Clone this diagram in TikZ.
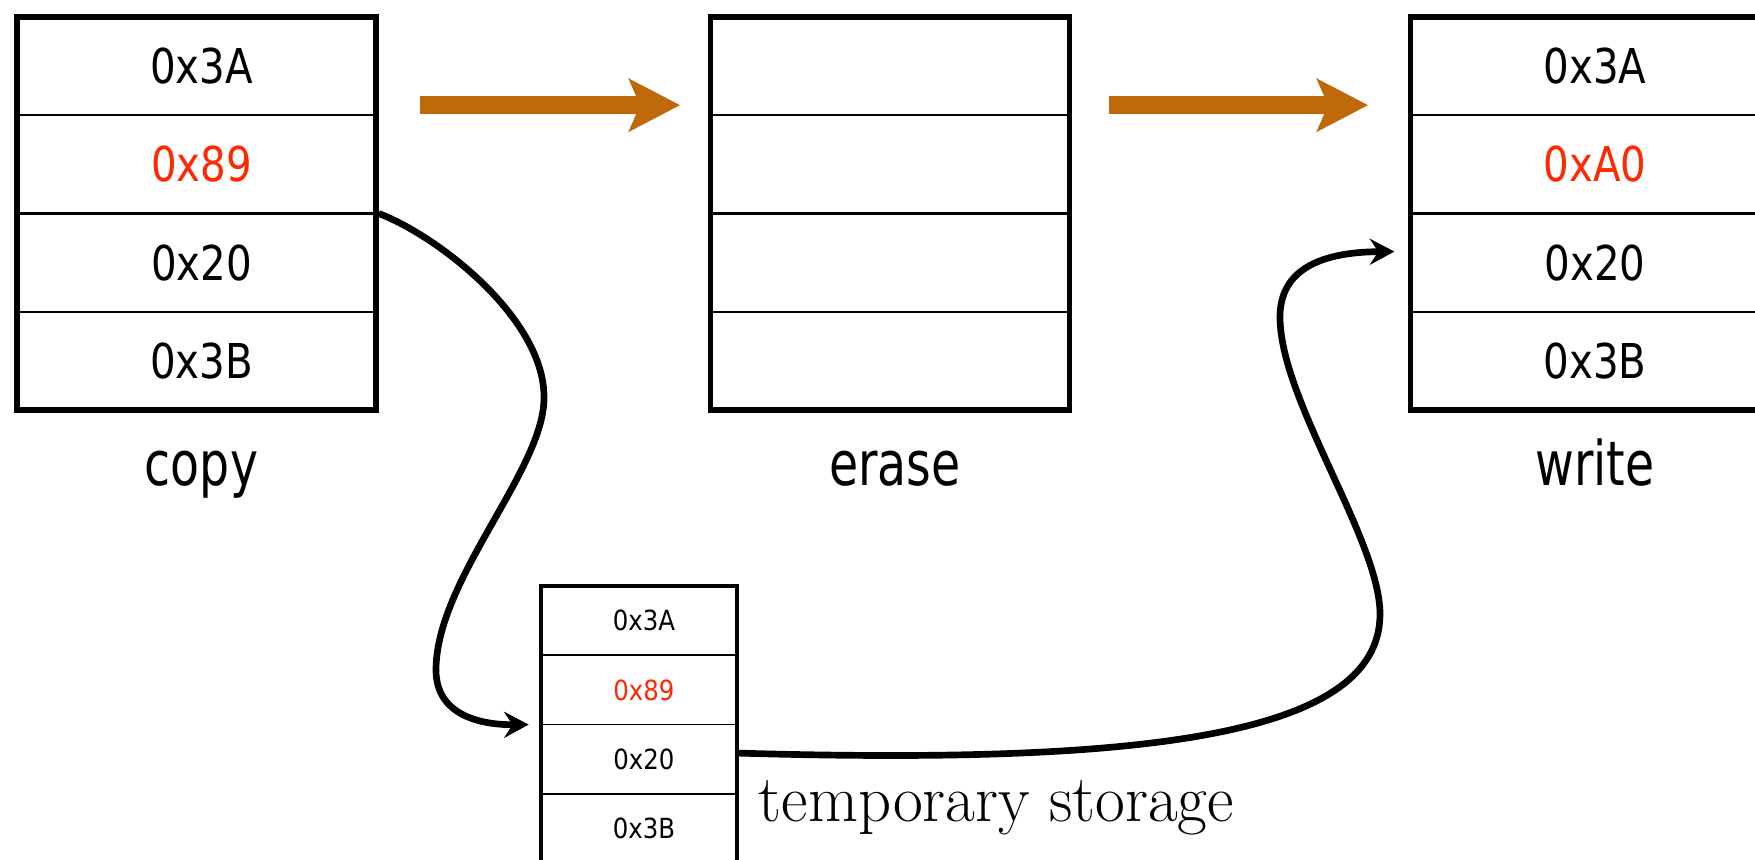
\documentclass[tikz,border=0pt]{standalone}
\usepackage{fontspec}
\usetikzlibrary{arrows.meta}
\newfontfamily\vsans{DejaVu Sans}
\definecolor{flow}{RGB}{191,105,10}
\definecolor{hot}{RGB}{255,40,0}
% byte values and step names, set in a narrowed sans serif
\newcommand\bigval[1]{\hspace*{1mm}\scalebox{0.84}[1]{\vsans\fontsize{13.66pt}{16pt}\selectfont #1}}
\newcommand\smallval[1]{\hspace*{1mm}\scalebox{0.88}[1]{\vsans\fontsize{7.9pt}{9pt}\selectfont #1}}
\newcommand\steptext[1]{\hspace*{1mm}\scalebox{0.77}[1]{\vsans\fontsize{17.5pt}{21pt}\selectfont #1}}
\tikzset{
  memcell/.style={draw, line width=0.6pt, minimum width=35.9mm, minimum height=9.825mm,
    inner sep=0pt, text height=9.96pt, text depth=0pt},
  tmpcell/.style={draw, line width=0.5pt, minimum width=19.6mm, minimum height=6.925mm,
    inner sep=0pt, text height=5.76pt, text depth=0pt},
  memframe/.style={draw, line width=1.6pt, minimum width=35.9mm, minimum height=39.3mm, inner sep=0pt},
  tmpframe/.style={draw, line width=1.3pt, minimum width=19.6mm, minimum height=27.7mm, inner sep=0pt},
  flowarrow/.style={draw=flow, line width=5.1pt, -{Stealth[length=14.5pt,width=14.8pt,inset=3.1pt]}},
  movearrow/.style={draw, line width=1.9pt, -{Stealth[length=7pt,width=7.4pt,inset=2.4pt]}},
  boxlabel/.style={anchor=base, inner sep=0pt},
}
\begin{document}
\begin{tikzpicture}[x=0.1mm, y=-0.1mm]
\useasboundingbox (0,0) rectangle (1755,860);
\clip (0,0) rectangle (1755,860);

% block being copied
\node[memcell] (copy1) at (196.5,66.1) {\bigval{0x3A}};
\node[memcell, text=hot] (copy2) at (196.5,164.4) {\bigval{0x89}};
\node[memcell] (copy3) at (196.5,262.6) {\bigval{0x20}};
\node[memcell] (copy4) at (196.5,360.9) {\bigval{0x3B}};
\node[memframe] (copy) at (196.5,213.5) {};
\node[boxlabel] (copylab) at ([yshift=-7.3mm]copy.south) {\steptext{copy}};

% erased block
\node[memcell] (erase1) at (890,66.1) {};
\node[memcell] (erase2) at (890,164.4) {};
\node[memcell] (erase3) at (890,262.6) {};
\node[memcell] (erase4) at (890,360.9) {};
\node[memframe] (erase) at (890,213.5) {};
\node[boxlabel] (eraselab) at ([yshift=-7.3mm]erase.south) {\steptext{erase}};

% rewritten block
\node[memcell] (write1) at (1590,66.1) {\bigval{0x3A}};
\node[memcell, text=hot] (write2) at (1590,164.4) {\bigval{0xA0}};
\node[memcell] (write3) at (1590,262.6) {\bigval{0x20}};
\node[memcell] (write4) at (1590,360.9) {\bigval{0x3B}};
\node[memframe] (write) at (1590,213.5) {};
\node[boxlabel] (writelab) at ([yshift=-7.3mm]write.south) {\steptext{write}};

% temporary copy
\node[tmpcell] (tmp1) at (639,620.6) {\smallval{0x3A}};
\node[tmpcell, text=hot] (tmp2) at (639,689.9) {\smallval{0x89}};
\node[tmpcell] (tmp3) at (639,759.1) {\smallval{0x20}};
\node[tmpcell] (tmp4) at (639,828.4) {\smallval{0x3B}};
\node[tmpframe] (tmp) at (639,724.5) {};
\node[anchor=base west, inner sep=0pt] (tmplab) at ([xshift=1.9mm,yshift=-9.7mm]tmp.east)
  {\scalebox{0.97}[1]{\fontsize{19pt}{23pt}\selectfont temporary storage}};

% step arrows
\coordinate (f1s) at ([yshift=-9.1mm]copy.north east);
\coordinate (f1e) at ([yshift=-9.1mm]erase.north west);
\coordinate (f2s) at ([yshift=-9.1mm]erase.north east);
\coordinate (f2e) at ([yshift=-9.1mm]write.north west);
\draw[flowarrow, shorten <=4.1mm, shorten >=2.75mm] (f1s) -- (f1e);
\draw[flowarrow, shorten <=3.65mm, shorten >=3.95mm] (f2s) -- (f2e);

% data moved out to temporary storage and back
\draw[movearrow, shorten >=1mm] (copy.east)
  .. controls (440,237) and (545,320) .. (544,398)
  .. controls (544,470) and (436,580) .. (436,670)
  .. controls (436,715) and (480,725) .. (tmp.west);

\coordinate (tmpout) at ([yshift=0.6mm]tmp3.east);
\coordinate (wrin) at ([xshift=-1.5mm,yshift=1.1mm]write3.west);
\draw[movearrow] (tmpout)
  .. controls (1150,765) and (1380,735) .. (1380,614)
  .. controls (1380,540) and (1280,400) .. (1280,317)
  .. controls (1280,270) and (1320,252) .. (wrin);
\end{tikzpicture}
\end{document}
